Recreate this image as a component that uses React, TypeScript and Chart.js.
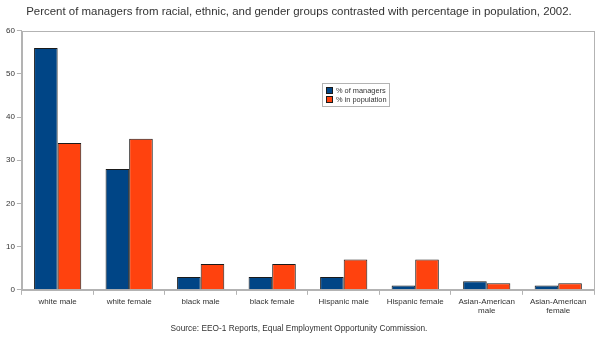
import React, { useEffect, useRef } from "react";
import { Chart, registerables } from "chart.js";

Chart.register(...registerables);

const categories: (string | string[])[] = [
  "white male",
  "white female",
  "black male",
  "black female",
  "Hispanic male",
  "Hispanic female",
  ["Asian-American", "male"],
  ["Asian-American", "female"],
];
const managers = [56, 28, 3, 3, 3, 1, 2, 1];
const population = [34, 35, 6, 6, 7, 7, 1.5, 1.5];
const seriesNames = ["% of managers", "% in population"];
const seriesColors = ["#004586", "#ff420e"];
const titleText =
  "Percent of managers from racial, ethnic, and gender groups contrasted with percentage in population, 2002.";
const sourceText = "Source: EEO-1 Reports, Equal Employment Opportunity Commission.";
const FONT = "'Liberation Sans', Arial, sans-serif";

const framePlugin = {
  id: "frame",
  afterDraw(chart: any) {
    const { ctx, chartArea } = chart;
    ctx.save();
    ctx.strokeStyle = "#b3b3b3";
    ctx.lineWidth = 1;
    ctx.strokeRect(
      Math.round(chartArea.left) + 0.5,
      Math.round(chartArea.top) + 0.5,
      Math.round(chartArea.right - chartArea.left),
      Math.round(chartArea.bottom - chartArea.top)
    );
    // legend box
    const x = 322;
    const y = 83;
    const w = 67;
    const h = 23;
    ctx.fillStyle = "#ffffff";
    ctx.fillRect(x, y, w, h);
    ctx.strokeStyle = "#b3b3b3";
    ctx.strokeRect(x + 0.5, y + 0.5, w, h);
    ctx.font = `7.4px ${FONT}`;
    ctx.textBaseline = "middle";
    seriesNames.forEach((name, i) => {
      const yy = y + 4 + i * 9;
      ctx.fillStyle = seriesColors[i];
      ctx.fillRect(x + 4, yy, 7, 7);
      ctx.strokeStyle = "#1a1a1a";
      ctx.strokeRect(x + 4.5, yy + 0.5, 6, 6);
      ctx.fillStyle = "#333333";
      ctx.fillText(name, x + 14, yy + 4);
    });
    ctx.restore();
  },
};

export default function App() {
  const ref = useRef<HTMLCanvasElement | null>(null);
  useEffect(() => {
    document.body.style.margin = "0";
    const chart = new Chart(ref.current as HTMLCanvasElement, {
      type: "bar",
      data: {
        labels: categories as any,
        datasets: [
          {
            label: seriesNames[0],
            data: managers,
            backgroundColor: seriesColors[0],
            borderColor: "#1a1a1a",
            borderWidth: 1,
          },
          {
            label: seriesNames[1],
            data: population,
            backgroundColor: seriesColors[1],
            borderColor: "#1a1a1a",
            borderWidth: 1,
          },
        ],
      },
      options: {
        animation: false,
        responsive: false,
        layout: { padding: { left: 4, right: 6, top: 0, bottom: 6 } },
        datasets: { bar: { categoryPercentage: 0.66, barPercentage: 1 } },
        plugins: {
          legend: { display: false },
          tooltip: { enabled: false },
          title: {
            display: true,
            text: titleText,
            color: "#333333",
            font: { family: FONT, size: 11.45, weight: "normal" },
            padding: { top: 5, bottom: 12 },
          },
          subtitle: {
            display: true,
            position: "bottom",
            text: sourceText,
            color: "#333333",
            font: { family: FONT, size: 8.3, weight: "normal" },
            padding: { top: 6, bottom: 2 },
          },
        },
        scales: {
          x: {
            grid: {
              drawOnChartArea: false,
              drawTicks: true,
              tickLength: 5,
              color: "#b3b3b3",
              offset: true,
            },
            border: { color: "#b3b3b3" },
            ticks: {
              color: "#333333",
              font: { family: FONT, size: 8 },
              maxRotation: 0,
              autoSkip: false,
              padding: 2,
            },
          },
          y: {
            min: 0,
            max: 60,
            grid: {
              drawOnChartArea: false,
              drawTicks: true,
              tickLength: 5,
              color: "#b3b3b3",
            },
            border: { color: "#b3b3b3" },
            ticks: {
              stepSize: 10,
              color: "#333333",
              font: { family: FONT, size: 8 },
              padding: 2,
            },
          },
        },
      },
      plugins: [framePlugin],
    });
    return () => chart.destroy();
  }, []);
  return (
    <div style={{ width: 600, height: 342 }}>
      <canvas ref={ref} width={600} height={342} />
    </div>
  );
}
